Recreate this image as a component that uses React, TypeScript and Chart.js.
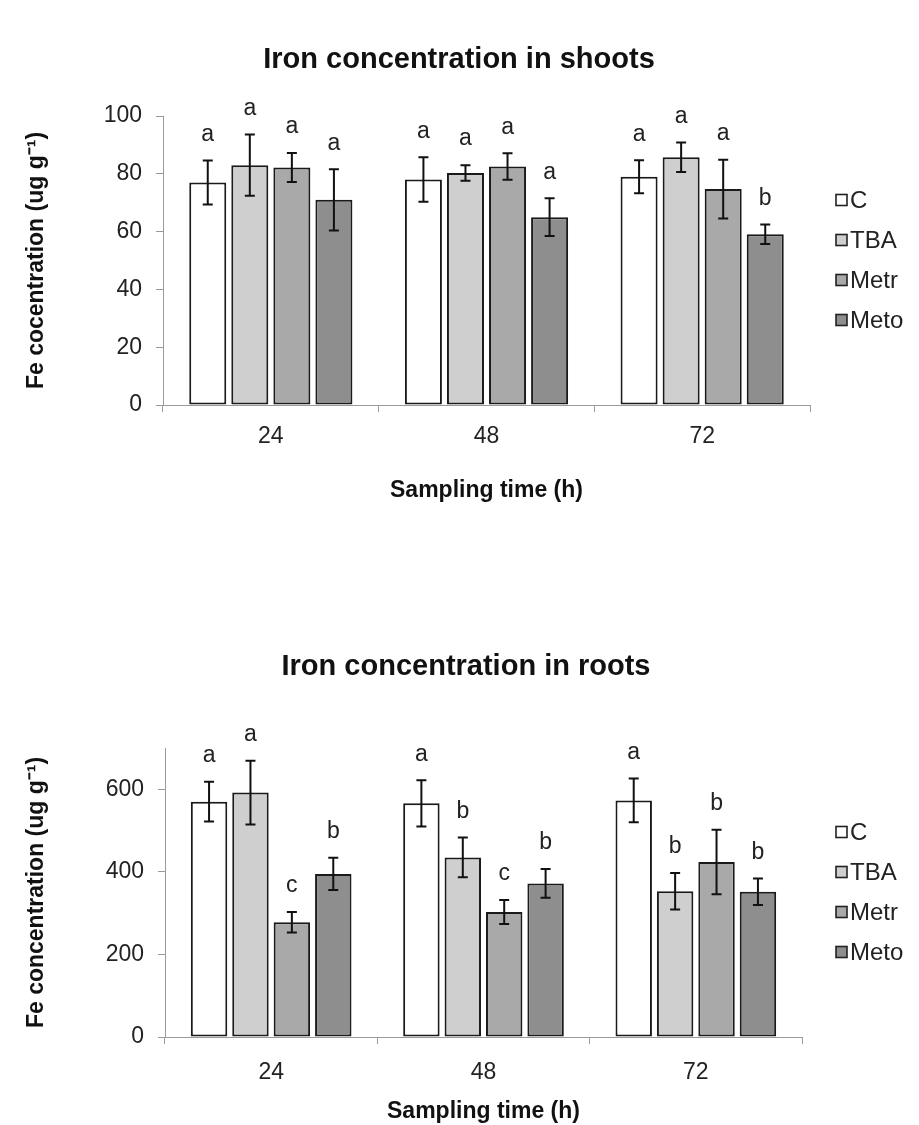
import React, { useEffect, useRef } from "react";
import { Chart, registerables } from "chart.js";

Chart.register(...registerables);

const FONT = '"Liberation Sans", Arial, Helvetica, sans-serif';

const categories = ["24", "48", "72"];
const seriesNames = ["C", "TBA", "Metr", "Meto"];
const seriesColors = ["#ffffff", "#cfcfcf", "#a9a9a9", "#8e8e8e"];

// Shoots (ug g-1)
const shootsC = [77, 78, 79];
const shootsTBA = [83, 80.3, 85.7];
const shootsMetr = [82.2, 82.5, 74.7];
const shootsMeto = [71, 65, 59.1];
const shootsErrC = [7.6, 7.7, 5.7];
const shootsErrTBA = [10.6, 2.7, 5.1];
const shootsErrMetr = [5, 4.6, 10.2];
const shootsErrMeto = [10.6, 6.5, 3.4];
const shootsLetC = ["a", "a", "a"];
const shootsLetTBA = ["a", "a", "a"];
const shootsLetMetr = ["a", "a", "a"];
const shootsLetMeto = ["a", "a", "b"];

// Roots (ug g-1)
const rootsC = [570, 566, 573];
const rootsTBA = [592, 435, 353];
const rootsMetr = [278, 303, 424];
const rootsMeto = [395, 372, 352];
const rootsErrC = [48, 56, 53];
const rootsErrTBA = [77, 48, 44];
const rootsErrMetr = [25, 29, 78];
const rootsErrMeto = [39, 35, 32];
const rootsLetC = ["a", "a", "a"];
const rootsLetTBA = ["a", "b", "b"];
const rootsLetMetr = ["c", "c", "b"];
const rootsLetMeto = ["b", "b", "b"];

const shootsTicks = [0, 20, 40, 60, 80, 100];
const rootsTicks = [0, 200, 400, 600];

const annotatePlugin = {
  id: "annotate",
  afterDatasetsDraw(chart: any, _args: any, opts: any) {
    const ctx = chart.ctx;
    const y = chart.scales.y;
    chart.data.datasets.forEach((ds: any, di: number) => {
      const meta = chart.getDatasetMeta(di);
      meta.data.forEach((bar: any, i: number) => {
        const v = ds.data[i];
        const e = ds.errors[i];
        const top = y.getPixelForValue(v + e);
        const bot = y.getPixelForValue(v - e);
        ctx.save();
        ctx.strokeStyle = "#111";
        ctx.lineWidth = 2;
        ctx.beginPath();
        ctx.moveTo(bar.x, top);
        ctx.lineTo(bar.x, bot);
        ctx.moveTo(bar.x - 5, top);
        ctx.lineTo(bar.x + 5, top);
        ctx.moveTo(bar.x - 5, bot);
        ctx.lineTo(bar.x + 5, bot);
        ctx.stroke();
        ctx.fillStyle = "#222";
        ctx.font = `23px ${FONT}`;
        ctx.textAlign = "center";
        ctx.textBaseline = "middle";
        ctx.fillText(ds.letters[i], bar.x, top - opts.letterGap);
        ctx.restore();
      });
    });
  },
  afterDraw(chart: any, _args: any, opts: any) {
    const ctx = chart.ctx;
    ctx.save();
    // title
    ctx.fillStyle = "#111";
    ctx.font = `bold 29px ${FONT}`;
    ctx.textAlign = "center";
    ctx.textBaseline = "middle";
    ctx.fillText(opts.title, opts.titleX, opts.titleY);
    // legend
    ctx.font = `24px ${FONT}`;
    ctx.textAlign = "left";
    chart.data.datasets.forEach((ds: any, i: number) => {
      const cy = opts.legendY + i * opts.legendStep;
      const bx = opts.legendX;
      ctx.fillStyle = ds.backgroundColor;
      ctx.fillRect(bx, cy - 5.5, 11, 11);
      ctx.strokeStyle = "#222";
      ctx.lineWidth = 1.6;
      ctx.strokeRect(bx, cy - 5.5, 11, 11);
      ctx.fillStyle = "#222";
      ctx.fillText(ds.label, bx + 14, cy + 1);
    });
    ctx.restore();
  },
};

type PanelProps = {
  top: number;
  height: number;
  values: number[][];
  errors: number[][];
  letters: string[][];
  tickValues: number[];
  max: number;
  yTitle: string;
  title: string;
  titleX: number;
  titleY: number;
  legendY: number;
  padding: { top: number; right: number; bottom: number; left: number };
  yWidth: number;
  xHeight: number;
  xTickPad: number;
};

function ChartPanel(p: PanelProps) {
  const ref = useRef<HTMLCanvasElement | null>(null);
  useEffect(() => {
    if (!ref.current) return;
    const axisColor = "#9a9a9a";
    const chart = new Chart(ref.current, {
      type: "bar",
      data: {
        labels: categories,
        datasets: seriesNames.map((name, i) => ({
          label: name,
          data: p.values[i],
          errors: p.errors[i],
          letters: p.letters[i],
          backgroundColor: seriesColors[i],
          borderColor: "#1a1a1a",
          borderWidth: 2,
          borderSkipped: false,
          categoryPercentage: 0.78,
          barPercentage: 0.88,
        })) as any,
      },
      options: {
        responsive: false,
        animation: false,
        devicePixelRatio: 1,
        layout: { padding: p.padding },
        plugins: {
          legend: { display: false },
          title: { display: false },
          tooltip: { enabled: false },
          annotate: {
            title: p.title,
            titleX: p.titleX,
            titleY: p.titleY,
            legendX: 836,
            legendY: p.legendY,
            legendStep: 40,
            letterGap: 26,
          },
        } as any,
        scales: {
          x: {
            grid: {
              display: true,
              drawOnChartArea: false,
              drawTicks: true,
              tickLength: 7,
              color: axisColor,
              offset: true,
            },
            border: { display: true, color: axisColor, width: 1 },
            ticks: { color: "#222", font: { family: FONT, size: 23 }, padding: p.xTickPad },
            title: {
              display: true,
              text: "Sampling time (h)",
              color: "#111",
              font: { family: FONT, size: 23, weight: "bold" },
              padding: { top: 0, bottom: 5 },
            },
            afterFit: (s: any) => {
              s.height = p.xHeight;
            },
          },
          y: {
            min: 0,
            max: p.max,
            afterBuildTicks: (s: any) => {
              s.ticks = p.tickValues.map((v) => ({ value: v }));
            },
            grid: {
              display: true,
              drawOnChartArea: false,
              drawTicks: true,
              tickLength: 7,
              color: axisColor,
            },
            border: { display: true, color: axisColor, width: 1 },
            ticks: { color: "#222", font: { family: FONT, size: 23 }, padding: 14 },
            title: {
              display: true,
              text: p.yTitle,
              color: "#111",
              font: { family: FONT, size: 23, weight: "bold" },
              padding: { top: 23, bottom: 0 },
            },
            afterFit: (s: any) => {
              s.width = p.yWidth;
            },
          },
        } as any,
      },
      plugins: [annotatePlugin as any],
    });
    return () => chart.destroy();
  }, []);
  return (
    <canvas
      ref={ref}
      width={919}
      height={p.height}
      style={{ position: "absolute", left: 0, top: p.top, width: 919, height: p.height }}
    />
  );
}

export default function App() {
  return (
    <div
      style={{
        position: "absolute",
        left: 0,
        top: 0,
        width: 919,
        height: 1125,
        background: "#ffffff",
        overflow: "hidden",
      }}
    >
      <ChartPanel
        top={0}
        height={600}
        values={[shootsC, shootsTBA, shootsMetr, shootsMeto]}
        errors={[shootsErrC, shootsErrTBA, shootsErrMetr, shootsErrMeto]}
        letters={[shootsLetC, shootsLetTBA, shootsLetMetr, shootsLetMeto]}
        tickValues={shootsTicks}
        max={100}
        yTitle="Fe cocentration (ug g⁻¹)"
        title="Iron concentration in shoots"
        titleX={459}
        titleY={60}
        legendY={200}
        padding={{ top: 116, right: 109, bottom: 91, left: 0 }}
        yWidth={163}
        xHeight={104}
        xTickPad={11}
      />
      <ChartPanel
        top={600}
        height={530}
        values={[rootsC, rootsTBA, rootsMetr, rootsMeto]}
        errors={[rootsErrC, rootsErrTBA, rootsErrMetr, rootsErrMeto]}
        letters={[rootsLetC, rootsLetTBA, rootsLetMetr, rootsLetMeto]}
        tickValues={rootsTicks}
        max={700}
        yTitle="Fe concentration (ug g⁻¹)"
        title="Iron concentration in roots"
        titleX={466}
        titleY={67}
        legendY={232}
        padding={{ top: 148, right: 117, bottom: 0, left: 0 }}
        yWidth={165}
        xHeight={93}
        xTickPad={15}
      />
    </div>
  );
}
